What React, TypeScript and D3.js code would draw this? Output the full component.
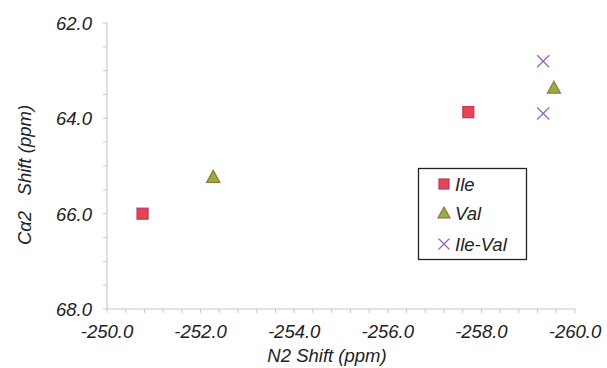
import { useEffect, useRef } from 'react';
import * as d3 from 'd3';

const ileN2 = [-250.76, -257.72];
const ileCa = [66.0, 63.87];
const valN2 = [-252.27, -259.55];
const valCa = [65.23, 63.36];
const ileValN2 = [-259.32, -259.32];
const ileValCa = [62.8, 63.9];

const xTicks = [-250, -252, -254, -256, -258, -260];
const yTicks = [62, 64, 66, 68];
const legendLabels = ['Ile', 'Val', 'Ile-Val'];

const FONT = '"Liberation Sans", Arial, sans-serif';
const FS = 18.5;

export default function App() {
  const svgRef = useRef<SVGSVGElement>(null);

  useEffect(() => {
    if (!svgRef.current) return;
    const width = 607;
    const height = 368;
    const svg = d3.select(svgRef.current).attr('viewBox', `0 0 ${width} ${height}`);
    svg.selectAll('*').remove();

    const x = d3.scaleLinear().domain([-250, -260]).range([107, 575]);
    const y = d3.scaleLinear().domain([62, 68]).range([23, 309]);

    const axisColor = '#c8c8c8';

    // y axis
    svg.append('line')
      .attr('x1', x(-250)).attr('x2', x(-250))
      .attr('y1', y(62)).attr('y2', y(68))
      .attr('stroke', axisColor).attr('stroke-width', 1.2);
    d3.range(62, 68.01, 0.5).forEach(v => {
      svg.append('line')
        .attr('x1', x(-250) - 4).attr('x2', x(-250))
        .attr('y1', y(v)).attr('y2', y(v))
        .attr('stroke', axisColor).attr('stroke-width', 1);
    });
    svg.selectAll('.ytl').data(yTicks).enter().append('text')
      .attr('x', 92).attr('y', d => y(d) + 7)
      .attr('text-anchor', 'end')
      .style('font', `italic ${FS}px ${FONT}`)
      .attr('fill', '#222')
      .text(d => d.toFixed(1));

    // x axis
    svg.append('line')
      .attr('x1', x(-250)).attr('x2', x(-260))
      .attr('y1', y(68)).attr('y2', y(68))
      .attr('stroke', axisColor).attr('stroke-width', 1.2);
    d3.range(0, 26).forEach(i => {
      const v = -250 - i * 0.4;
      svg.append('line')
        .attr('x1', x(v)).attr('x2', x(v))
        .attr('y1', y(68)).attr('y2', y(68) + 4)
        .attr('stroke', axisColor).attr('stroke-width', 1);
    });
    svg.selectAll('.xtl').data(xTicks).enter().append('text')
      .attr('x', d => x(d)).attr('y', 338)
      .attr('text-anchor', 'middle')
      .style('font', `italic ${FS}px ${FONT}`)
      .attr('fill', '#222')
      .text(d => d.toFixed(1));

    // titles
    svg.append('text')
      .attr('x', 327).attr('y', 362)
      .attr('text-anchor', 'middle')
      .style('font', `italic ${FS}px ${FONT}`)
      .attr('fill', '#222')
      .text('N2 Shift (ppm)');
    svg.append('text')
      .attr('transform', `translate(31,175) rotate(-90)`)
      .attr('text-anchor', 'middle')
      .style('font', `italic ${FS}px ${FONT}`)
      .style('white-space', 'pre')
      .attr('fill', '#222')
      .text('Cα2   Shift (ppm)');

    const square = (g: d3.Selection<SVGGElement, unknown, null, undefined>, cx: number, cy: number, s: number) =>
      g.append('rect')
        .attr('x', cx - s / 2).attr('y', cy - s / 2)
        .attr('width', s).attr('height', s)
        .attr('fill', '#e0474f').attr('stroke', '#c8306a').attr('stroke-width', 1.2);
    const triangle = (g: d3.Selection<SVGGElement, unknown, null, undefined>, cx: number, cy: number, s: number) =>
      g.append('path')
        .attr('d', `M${cx},${cy - s * 0.55}L${cx + s * 0.55},${cy + s * 0.45}L${cx - s * 0.55},${cy + s * 0.45}Z`)
        .attr('fill', '#8cb04a').attr('stroke', '#a5702e').attr('stroke-width', 1.2);
    const cross = (g: d3.Selection<SVGGElement, unknown, null, undefined>, cx: number, cy: number, s: number) =>
      g.append('path')
        .attr('d', `M${cx - s / 2},${cy - s / 2}L${cx + s / 2},${cy + s / 2}M${cx - s / 2},${cy + s / 2}L${cx + s / 2},${cy - s / 2}`)
        .attr('stroke', '#9a6ac0').attr('stroke-width', 1.4).attr('fill', 'none');

    const marks = svg.append('g');
    ileN2.forEach((v, i) => square(marks, x(v), y(ileCa[i]), 11));
    valN2.forEach((v, i) => triangle(marks, x(v), y(valCa[i]), 12));
    ileValN2.forEach((v, i) => cross(marks, x(v), y(ileValCa[i]), 12));

    // legend
    const lg = svg.append('g');
    lg.append('rect')
      .attr('x', 418.5).attr('y', 168.5).attr('width', 108).attr('height', 91)
      .attr('fill', 'white').attr('stroke', '#222').attr('stroke-width', 1.3);
    const ly = [184, 213, 244];
    square(lg, 444, ly[0], 10);
    triangle(lg, 444, ly[1], 11);
    cross(lg, 444, ly[2], 11);
    legendLabels.forEach((t, i) => {
      lg.append('text')
        .attr('x', 455).attr('y', ly[i] + 7)
        .style('font', `italic ${FS}px ${FONT}`)
        .attr('fill', '#222')
        .text(t);
    });
  }, []);

  return (
    <div style={{ position: 'fixed', left: 0, top: 0, width: 607, height: 368, background: 'white' }}>
      <svg ref={svgRef} width={607} height={368} style={{ display: 'block' }} />
    </div>
  );
}
